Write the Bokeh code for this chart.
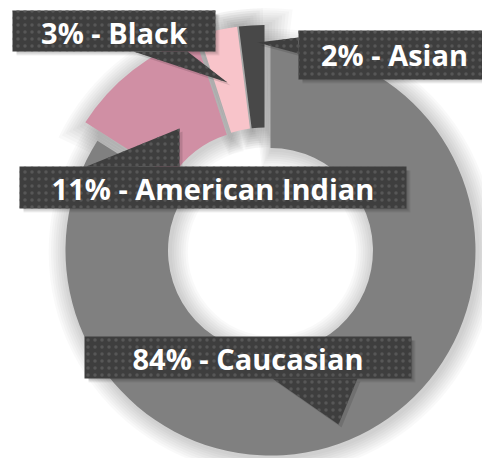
import math
from bokeh.plotting import figure
from bokeh.models import Range1d, ColumnDataSource
from bokeh.core.properties import value
from bokeh.embed import file_html
from bokeh.resources import INLINE

# ---- data ----
categories = ["Caucasian", "American Indian", "Black", "Asian"]
percents = [84, 11, 3, 2]

# ---- styles ----
slice_colors = ["#808080", "#d08fa4", "#f8c4ca", "#484848"]
box_color = "#3e3e3e"
dot_color = "#575757"

W, H = 482, 458
IMG_H = 458


def Y(y):
    return IMG_H - y


p = figure(width=W, height=H, x_range=Range1d(0, W), y_range=Range1d(0, H),
           output_backend="svg", toolbar_location=None, min_border=0)
p.axis.visible = False
p.grid.visible = False
p.outline_line_color = None
p.background_fill_color = "white"
p.border_fill_color = "white"

# donut geometry (pixel-equivalent data units)
cx, cy = 264.7, Y(240.4)
r_out, r_in = 205.0, 102.5
explode = 11.0

total = float(sum(percents))
acc = 0.0
sl = dict(x=[], y=[], start=[], end=[], color=[])
for cat, pct, col in zip(categories, percents, slice_colors):
    a_hi = math.radians(90 - acc / total * 360)
    a_lo = math.radians(90 - (acc + pct) / total * 360)
    mid = (a_hi + a_lo) / 2
    sl["x"].append(cx + explode * math.cos(mid))
    sl["y"].append(cy + explode * math.sin(mid))
    sl["start"].append(a_lo)
    sl["end"].append(a_hi)
    sl["color"].append(col)
    acc += pct

# soft shadow around the slices
r_mid = (r_out + r_in) / 2
for k in range(1, 9):
    d = 2.3 * k
    da = d / r_mid
    p.annular_wedge(x=[v + 1.5 for v in sl["x"]], y=[v - 1.5 for v in sl["y"]],
                    inner_radius=r_in - d, outer_radius=r_out + d,
                    start_angle=[a - da for a in sl["start"]],
                    end_angle=[a + da for a in sl["end"]],
                    fill_color="black", fill_alpha=0.022, line_color=None)

p.annular_wedge(x="x", y="y", inner_radius=r_in, outer_radius=r_out,
                start_angle="start", end_angle="end", fill_color="color",
                line_color=None, source=ColumnDataSource(sl))

# ---- callout layout (image pixel coords) ----
layout = {
    "Black": dict(box=(12, 215, 10, 51), tri=[(133, 51), (187, 51), (227, 82)], tx=113.5, base=32),
    "Asian": dict(box=(298, 490, 30, 79), tri=[(298, 37), (298, 53), (257, 42)], tx=394, base=54),
    "American Indian": dict(box=(19, 406, 166, 208), tri=[(86, 166), (179, 166), (179, 128)], tx=212.5, base=188),
    "Caucasian": dict(box=(84, 411, 336, 378), tri=[(272, 378), (357, 378), (338, 424)], tx=247.5, base=358),
}

# shadows of callouts (bottom-right)
for cat in categories:
    L = layout[cat]
    x0, x1, y0, y1 = L["box"]
    for k in range(0, 4):
        p.quad(left=x0 + 4, right=x1 + 1 + k, top=Y(y0 + 4), bottom=Y(y1 + 1 + k),
               fill_color="black", fill_alpha=0.06, line_color=None)
    xs = [q[0] + 3 for q in L["tri"]]
    ys = [Y(q[1] + 3) for q in L["tri"]]
    p.patch(xs, ys, fill_color="black", fill_alpha=0.12, line_color=None)

# callout boxes and pointers
for cat in categories:
    L = layout[cat]
    x0, x1, y0, y1 = L["box"]
    p.quad(left=x0, right=x1, top=Y(y0), bottom=Y(y1), fill_color=box_color, line_color=None,
           hatch_pattern="dot", hatch_color=dot_color, hatch_scale=7, hatch_weight=1)
    p.patch([q[0] for q in L["tri"]], [Y(q[1]) for q in L["tri"]], fill_color=box_color,
            line_color=None, hatch_pattern="dot", hatch_color=dot_color, hatch_scale=7,
            hatch_weight=1)

labels = dict(x=[], y=[], text=[])
for cat, pct in zip(categories, percents):
    L = layout[cat]
    labels["x"].append(L["tx"])
    labels["y"].append(Y(L["base"]))
    labels["text"].append(f"{pct}% - {cat}")

p.text(x="x", y="y", text="text", source=ColumnDataSource(labels),
       text_font=value("Open Sans"), text_font_style="bold", text_font_size="29px",
       text_color="white", text_align="center", text_baseline="alphabetic")

open("out.html", "w").write(file_html(p, INLINE))
